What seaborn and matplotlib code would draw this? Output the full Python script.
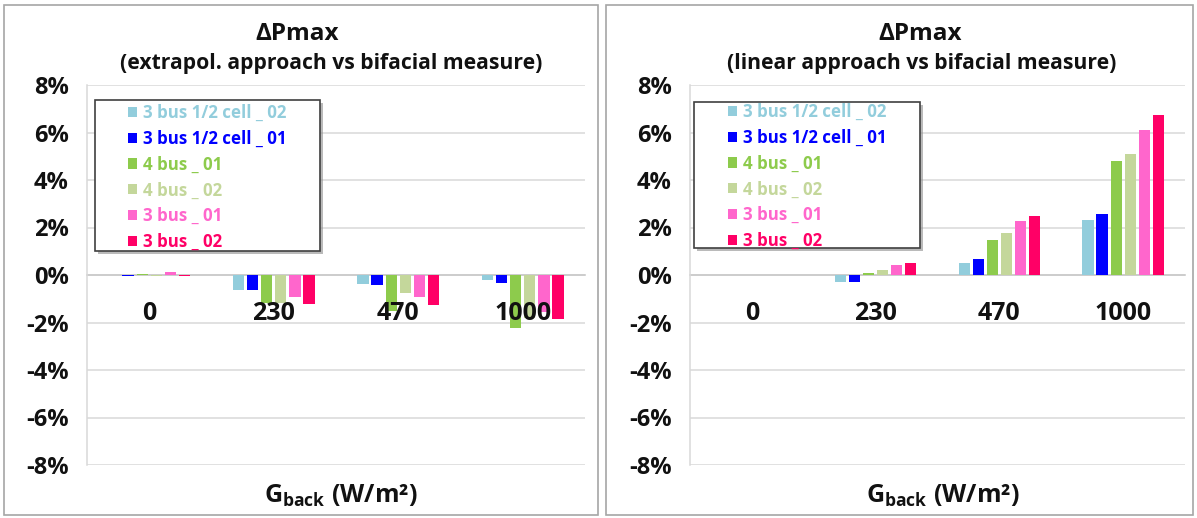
import numpy as np
import pandas as pd
import matplotlib
matplotlib.use("Agg")
import matplotlib.pyplot as plt
from matplotlib.patches import Rectangle, Patch
from matplotlib.ticker import FixedLocator, PercentFormatter
import seaborn as sns

# ---------------- data ----------------
categories = ["0", "230", "470", "1000"]
series = ["3 bus 1/2 cell _ 02", "3 bus 1/2 cell _ 01", "4 bus _ 01",
          "4 bus _ 02", "3 bus _ 01", "3 bus _ 02"]
colors = ["#92CDDC", "#0000FF", "#8DCB4C", "#C4D79B", "#FF66CC", "#FF0066"]

# left: extrapol. approach vs bifacial measure (in %)
left_3b12_02 = [0.01, -0.65, -0.37, -0.20]
left_3b12_01 = [-0.03, -0.65, -0.40, -0.33]
left_4b_01 = [0.05, -1.17, -1.50, -2.23]
left_4b_02 = [-0.05, -1.17, -0.75, -1.80]
left_3b_01 = [0.12, -0.92, -0.92, -1.55]
left_3b_02 = [-0.06, -1.20, -1.28, -1.87]

# right: linear approach vs bifacial measure (in %)
right_3b12_02 = [0.0, -0.31, 0.51, 2.32]
right_3b12_01 = [0.0, -0.28, 0.66, 2.58]
right_4b_01 = [0.0, 0.08, 1.49, 4.78]
right_4b_02 = [0.0, 0.22, 1.77, 5.08]
right_3b_01 = [0.0, 0.43, 2.28, 6.10]
right_3b_02 = [0.0, 0.52, 2.47, 6.75]

yticks = [-8, -6, -4, -2, 0, 2, 4, 6, 8]
main_title = "\u0394Pmax"
sub_left = "(extrapol. approach vs bifacial measure)"
sub_right = "(linear approach vs bifacial measure)"
xlabel = r"$\mathbf{G}_{\mathbf{back}}$ (W/m²)"


def long_df(cols):
    rows = []
    for s, vals in zip(series, cols):
        for c, v in zip(categories, vals):
            rows.append({"cat": c, "series": s, "val": v})
    return pd.DataFrame(rows)


df_left = long_df([left_3b12_02, left_3b12_01, left_4b_01, left_4b_02, left_3b_01, left_3b_02])
df_right = long_df([right_3b12_02, right_3b12_01, right_4b_01, right_4b_02, right_3b_01, right_3b_02])

# ---------------- style ----------------
sns.set_theme(style="white")
FONT = "Open Sans"
plt.rcParams["font.family"] = [FONT, "DejaVu Sans"]
plt.rcParams["axes.unicode_minus"] = False
plt.rcParams["mathtext.fontset"] = "custom"
plt.rcParams["mathtext.rm"] = FONT
plt.rcParams["mathtext.bf"] = FONT + ":bold"

W, H = 1197, 518
fig = plt.figure(figsize=(W / 100, H / 100), dpi=100)
fig.patch.set_facecolor("white")


def px(x, y):
    return x / W, 1 - y / H


# panel frames
for (x0, x1) in [(4, 598), (606, 1193)]:
    fig.patches.append(Rectangle(px(x0, 515), (x1 - x0) / W, (515 - 5) / H,
                                 transform=fig.transFigure, fill=False,
                                 edgecolor="#A6A6A6", lw=1.2, zorder=0))

grid_c = "#D9D9D9"
txt_c = "#111111"


def draw_panel(df, ax_left, ax_right, sub, sub_cx, title_cx, leg_box, leg_anchor):
    x0, y0 = px(ax_left, 465)
    x1, y1 = px(ax_right, 85)
    ax = fig.add_axes([x0, y0, x1 - x0, y1 - y0])
    sns.barplot(data=df, x="cat", y="val", hue="series", order=categories,
                hue_order=series, palette=colors, width=0.68, gap=0.2,
                saturation=1, ax=ax, legend=False, zorder=3, linewidth=0)
    ax.set_ylim(-8, 8)
    ax.set_xlim(-0.5, len(categories) - 0.5)
    ax.yaxis.set_major_locator(FixedLocator(yticks))
    ax.yaxis.set_major_formatter(PercentFormatter(decimals=0))
    for t in yticks:
        if t != 0:
            ax.axhline(t, color=grid_c, lw=1.1, zorder=1)
    for s in ["top", "right"]:
        ax.spines[s].set_visible(False)
    ax.spines["left"].set_color(grid_c)
    ax.spines["left"].set_linewidth(1.1)
    ax.spines["bottom"].set_position(("data", 0))
    ax.spines["bottom"].set_color("#BFBFBF")
    ax.spines["bottom"].set_linewidth(1.1)
    ax.spines["bottom"].set_zorder(2)
    ax.tick_params(axis="y", length=9, width=1.1, color=grid_c, pad=4,
                   labelsize=17, labelcolor=txt_c)
    for lab in ax.get_yticklabels():
        lab.set_fontweight("bold")
    # category boundary ticks on zero line
    ax.set_xticks(np.arange(-0.5, len(categories), 1.0))
    ax.set_xticklabels([])
    ax.tick_params(axis="x", length=8, width=1.1, color="#BFBFBF", direction="out")
    ax.set_xticks(np.arange(len(categories)), minor=True)
    ax.set_xticklabels(categories, minor=True, fontsize=18, fontweight="bold",
                       color=txt_c)
    ax.tick_params(axis="x", which="minor", length=0, pad=19)
    ax.xaxis.set_zorder(6)
    ax.set_xlabel("")
    ax.set_ylabel("")
    ax.set_facecolor("none")
    # titles
    fig.text(*px(title_cx, 34), main_title, ha="center", va="center",
             fontsize=17.5, fontweight="bold", color=txt_c)
    fig.text(*px(sub_cx, 64), sub, ha="center", va="center",
             fontsize=15.2, fontweight="bold", color=txt_c)
    fig.text(*px((ax_left + ax_right) / 2 + 5, 496), xlabel, ha="center",
             va="center", fontsize=18, fontweight="bold", color=txt_c)
    # legend box with shadow
    bx0, by0, bx1, by1 = leg_box
    fig.patches.append(Rectangle(px(bx0 + 3, by1 + 3), (bx1 - bx0) / W, (by1 - by0) / H,
                                 transform=fig.transFigure, facecolor="#8C8C8C",
                                 edgecolor="none", alpha=0.6, zorder=6))
    fig.patches.append(Rectangle(px(bx0, by1), (bx1 - bx0) / W, (by1 - by0) / H,
                                 transform=fig.transFigure, facecolor="white",
                                 edgecolor="#404040", lw=1.2, zorder=7))
    handles = [Patch(facecolor=c, edgecolor="none") for c in colors]
    leg = fig.legend(handles, series, loc="upper left",
                     bbox_to_anchor=px(*leg_anchor), frameon=False,
                     handlelength=0.55, handleheight=0.55,
                     handletextpad=0.35, labelspacing=0.46, borderpad=0,
                     borderaxespad=0, prop={"weight": "bold", "size": 12.2})
    leg.set_zorder(8)
    for txt, c in zip(leg.get_texts(), colors):
        txt.set_color(c)
    return ax


draw_panel(df_left, 87, 585, sub_left, 331, 297, (95, 100, 320, 251), (128, 104))
draw_panel(df_right, 690, 1185, sub_right, 922, 920, (694, 102, 920, 248), (728, 103))

fig.savefig("out.png", dpi=100, facecolor="white")
